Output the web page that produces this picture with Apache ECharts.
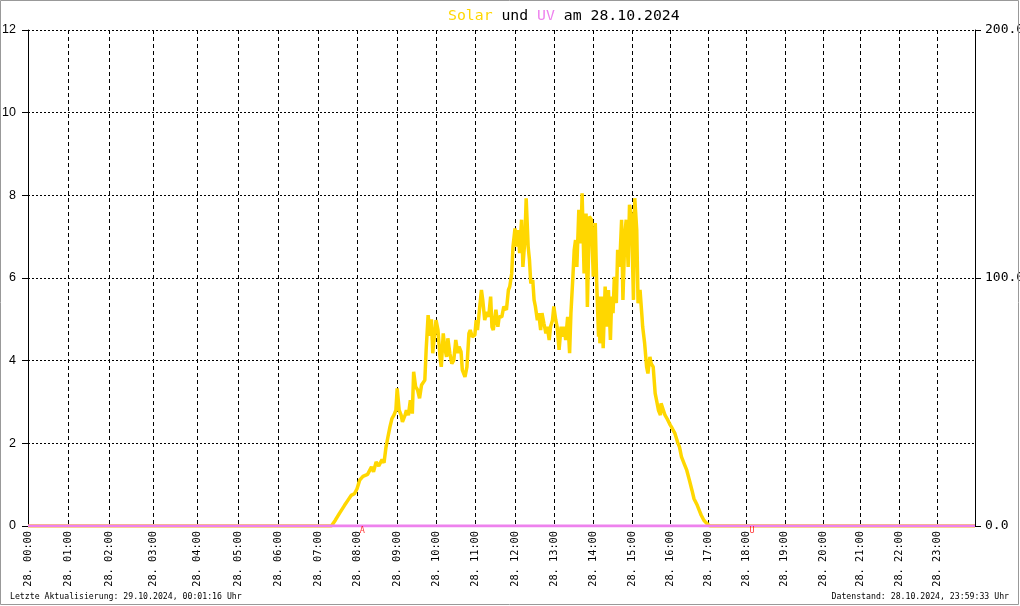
<!DOCTYPE html>
<html>
<head>
<meta charset="utf-8">
<script src="https://cdn.jsdelivr.net/npm/echarts@6/dist/echarts.min.js"></script>
<style>
html,body{margin:0;padding:0;background:#fff;}
#chart{width:1020px;height:606px;}
</style>
</head>
<body>
<div id="chart"></div>
<script>
// ---- data ----
const dayLabel = '28.';
const titleDate = '28.10.2024';
const footerLeft = 'Letzte Aktualisierung: 29.10.2024, 00:01:16 Uhr';
const footerRight = 'Datenstand: 28.10.2024, 23:59:33 Uhr';
// number of logged records in each hour (the x axis is record based)
const recordsPerHour = [61,63,67,66,62,61,61,59,61,59,59,61,60,59,59,58,58,58,58,58,57,59,58,58];
const leftTicks = [0, 2, 4, 6, 8, 10, 12];
const rightTicks = [0, 100, 200];
// Solar readings [time, value]
const solar = [
["00:00",0],["07:20",0],["07:26",0.14],["07:33",0.30],["07:41",0.50],["07:46",0.62],["07:51",0.74],["07:56",0.78],
["08:00",0.90],["08:04",1.11],["08:09",1.20],["08:16",1.25],["08:22",1.43],["08:25",1.31],["08:29",1.55],["08:32",1.45],
["08:37",1.61],["08:40",1.53],["08:43",1.91],["08:46",2.16],["08:49",2.40],["08:52",2.60],["08:55",2.68],["08:58",2.80],
["09:00",3.33],["09:03",2.80],["09:06",2.68],["09:08",2.52],["09:12",2.68],["09:14",2.80],["09:17",2.68],["09:20",3.04],
["09:23",2.72],["09:25",3.73],["09:28",3.37],["09:32",3.29],["09:35",3.09],["09:38",3.41],["09:43",3.53],["09:45",4.26],
["09:48",5.10],["09:51",4.60],["09:53",5.00],["09:55",4.18],
["10:00",4.98],["10:03",4.74],["10:06",4.09],["10:08",3.85],["10:11",4.66],["10:13",4.34],["10:16",4.09],["10:18",4.54],
["10:21",4.18],["10:24",3.93],["10:27",4.01],["10:31",4.50],["10:34",4.18],["10:36",4.34],["10:39",4.22],["10:41",3.77],
["10:45",3.61],["10:48",3.85],["10:51",4.66],["10:53",4.74],["10:56",4.58],
["11:00",4.62],["11:02",4.98],["11:04",4.74],["11:07",5.23],["11:10",5.71],["11:12",5.47],["11:15",4.98],["11:18",5.18],
["11:21",5.06],["11:24",5.55],["11:26",4.82],["11:28",4.74],["11:31",5.23],["11:34",4.82],["11:36",5.06],["11:40",5.06],
["11:43",5.31],["11:47",5.23],["11:50",5.71],["11:52",5.79],["11:55",6.11],["11:57",6.76],
["12:00",7.20],["12:02",6.76],["12:05",7.16],["12:07",6.60],["12:10",7.41],["12:12",6.27],["12:15",6.92],["12:17",7.93],
["12:20",6.76],["12:22",6.44],["12:24",5.87],["12:27",5.95],["12:29",5.47],["12:31",5.31],["12:34",4.98],["12:36",5.15],
["12:39",4.74],["12:41",5.15],["12:44",4.90],["12:47",4.66],["12:49",4.82],["12:52",4.50],["12:54",4.82],["12:57",4.98],
["12:59",5.31],["13:02",4.98],["13:04",4.82],["13:07",4.26],["13:10",4.82],["13:12",4.58],["13:15",4.82],["13:17",4.50],
["13:20",5.06],["13:23",4.18],["13:25",5.15],["13:28",6.03],["13:30",6.68],["13:33",6.92],["13:35",6.27],["13:38",7.65],
["13:41",6.84],["13:43",8.05],["13:46",6.11],["13:49",7.56],["13:51",5.30],["13:54",7.49],["13:57",7.41],
["14:00",6.03],["14:03",7.33],["14:05",5.95],["14:08",4.58],["14:09",5.55],["14:10",4.42],["14:13",5.55],["14:15",4.30],
["14:18",5.79],["14:21",4.82],["14:23",5.71],["14:26",4.50],["14:28",5.55],["14:31",5.15],["14:33",6.03],["14:36",5.39],
["14:38",6.68],["14:41",6.27],["14:44",7.41],["14:46",5.47],["14:49",7.08],["14:51",7.41],["14:54",6.27],["14:56",7.77],
["14:59",7.49],["15:02",5.47],["15:04",7.93],["15:07",7.16],["15:09",5.39],["15:12",5.71],["15:15",5.06],["15:17",4.82],
["15:20",4.42],["15:23",3.85],["15:25",3.69],["15:28",4.09],["15:30",3.93],["15:33",3.85],["15:36",3.21],["15:38",3.05],
["15:41",2.80],["15:44",2.68],["15:46",2.97],["15:49",2.97],["15:52",2.68],["15:55",2.60],
["16:00",2.44],["16:03",2.36],["16:07",2.24],["16:11",2.03],["16:14",1.91],["16:18",1.67],["16:22",1.51],["16:26",1.35],
["16:30",1.11],["16:34",0.86],["16:37",0.66],["16:42",0.50],["16:46",0.38],["16:49",0.26],["16:53",0.14],["16:57",0.07],
["17:02",0],["23:59",0]
];
// UV readings [time, value]
const uv = [["00:00",0],["23:59",0]];
// sunrise / sunset markers [time, letter]
const sunEvents = [["08:05","A"],["18:05","U"]];

// ---- build category axis (one category per record) ----
const pad = n => String(n).padStart(2,'0');
const hourStart = [];
let acc = 0;
recordsPerHour.forEach(n => { hourStart.push(acc); acc += n; });
const categories = [];
recordsPerHour.forEach((n,h) => {
  for (let i = 0; i < n; i++) {
    const s = Math.floor(i*3600/n);
    categories.push(pad(h)+':'+pad(Math.floor(s/60))+':'+pad(s%60));
  }
});
const hourSet = new Set(hourStart);
function toIndex(t){
  const [h,m] = t.split(':').map(Number);
  return Math.min(categories.length-1, hourStart[h] + Math.round(m*recordsPerHour[h]/60));
}
const hourFilter = (index) => hourSet.has(index);

const MONO = 'DejaVu Sans Mono';
const chart = echarts.init(document.getElementById('chart'), null, {renderer:'canvas'});
chart.setOption({
  animation: false,
  backgroundColor: '#fff',
  title: {
    text: '{s|Solar} und {u|UV} am ' + titleDate,
    left: 443, top: 4,
    textStyle: {
      fontFamily: MONO, fontSize: 14.8, fontWeight: 'normal', color: '#000',
      rich: {
        s: {color:'#FFD700', fontFamily: MONO, fontSize: 14.8},
        u: {color:'#EE82EE', fontFamily: MONO, fontSize: 14.8}
      }
    }
  },
  grid: {left: 28, right: 45, top: 30, bottom: 80, containLabel: false, outerBoundsMode: 'none'},
  xAxis: {
    type: 'category',
    data: categories,
    boundaryGap: false,
    axisLine: {show: true, lineStyle: {color:'#000', width:1}},
    axisTick: {show: false},
    axisLabel: {
      interval: hourFilter,
      rotate: 90,
      margin: 5,
      fontFamily: MONO, fontSize: 10.3, color: '#000',
      formatter: v => dayLabel + ' ' + v.slice(0,5)
    },
    splitLine: {show: true, interval: hourFilter, lineStyle: {color:'#000', width:1, type:[4,3]}}
  },
  yAxis: [
    {
      type: 'value', min: leftTicks[0], max: leftTicks[leftTicks.length-1], interval: leftTicks[1]-leftTicks[0],
      position: 'left',
      axisLine: {show: true, lineStyle: {color:'#000', width:1}},
      axisTick: {show: true, length: 6, lineStyle: {color:'#000'}},
      axisLabel: {margin: 12, fontFamily: 'Liberation Sans', fontSize: 12.5, color: '#000'},
      splitLine: {show: true, lineStyle: {color:'#000', width:1, type:[2,2]}}
    },
    {
      type: 'value', min: rightTicks[0], max: rightTicks[rightTicks.length-1], interval: rightTicks[1]-rightTicks[0],
      position: 'right',
      axisLine: {show: true, lineStyle: {color:'#000', width:1}},
      axisTick: {show: true, length: 6, lineStyle: {color:'#000'}},
      axisLabel: {margin: 10, fontFamily: MONO, fontSize: 13, color: '#000', formatter: v => v.toFixed(1)},
      splitLine: {show: false}
    }
  ],
  series: [
    {
      name: 'Solar', type: 'line', yAxisIndex: 0, z: 2,
      data: solar.map(([t,v]) => [toIndex(t), v]),
      showSymbol: false, symbol: 'none',
      lineStyle: {color:'#FFD700', width: 3.5},
      itemStyle: {color:'#FFD700'}
    },
    {
      name: 'UV', type: 'line', yAxisIndex: 1, z: 3,
      data: uv.map(([t,v]) => [toIndex(t), v]),
      showSymbol: false, symbol: 'none',
      lineStyle: {color:'#EE82EE', width: 3},
      itemStyle: {color:'#EE82EE'}
    },
    {
      name: 'Sonne', type: 'scatter', yAxisIndex: 0, z: 4,
      data: sunEvents.map(([t,l]) => [toIndex(t), 0, l]),
      symbolSize: 1,
      itemStyle: {color:'rgba(0,0,0,0)'},
      label: {show: true, position: [0, 1], formatter: p => p.value[2], color: '#FF0000', fontFamily: MONO, fontSize: 8.5}
    }
  ],
  graphic: [
    {type:'text', left: 10, top: 593, style: {text: footerLeft, font: '8.2px "DejaVu Sans Mono"', fill:'#000'}},
    {type:'text', right: 11, top: 593, style: {text: footerRight, font: '8.2px "DejaVu Sans Mono"', fill:'#000'}},
    {type:'rect', shape: {x:0.5, y:0.5, width:1018, height:604}, style: {fill:'none', stroke:'#999', lineWidth:1}, z: 100}
  ]
});
</script>
</body>
</html>
